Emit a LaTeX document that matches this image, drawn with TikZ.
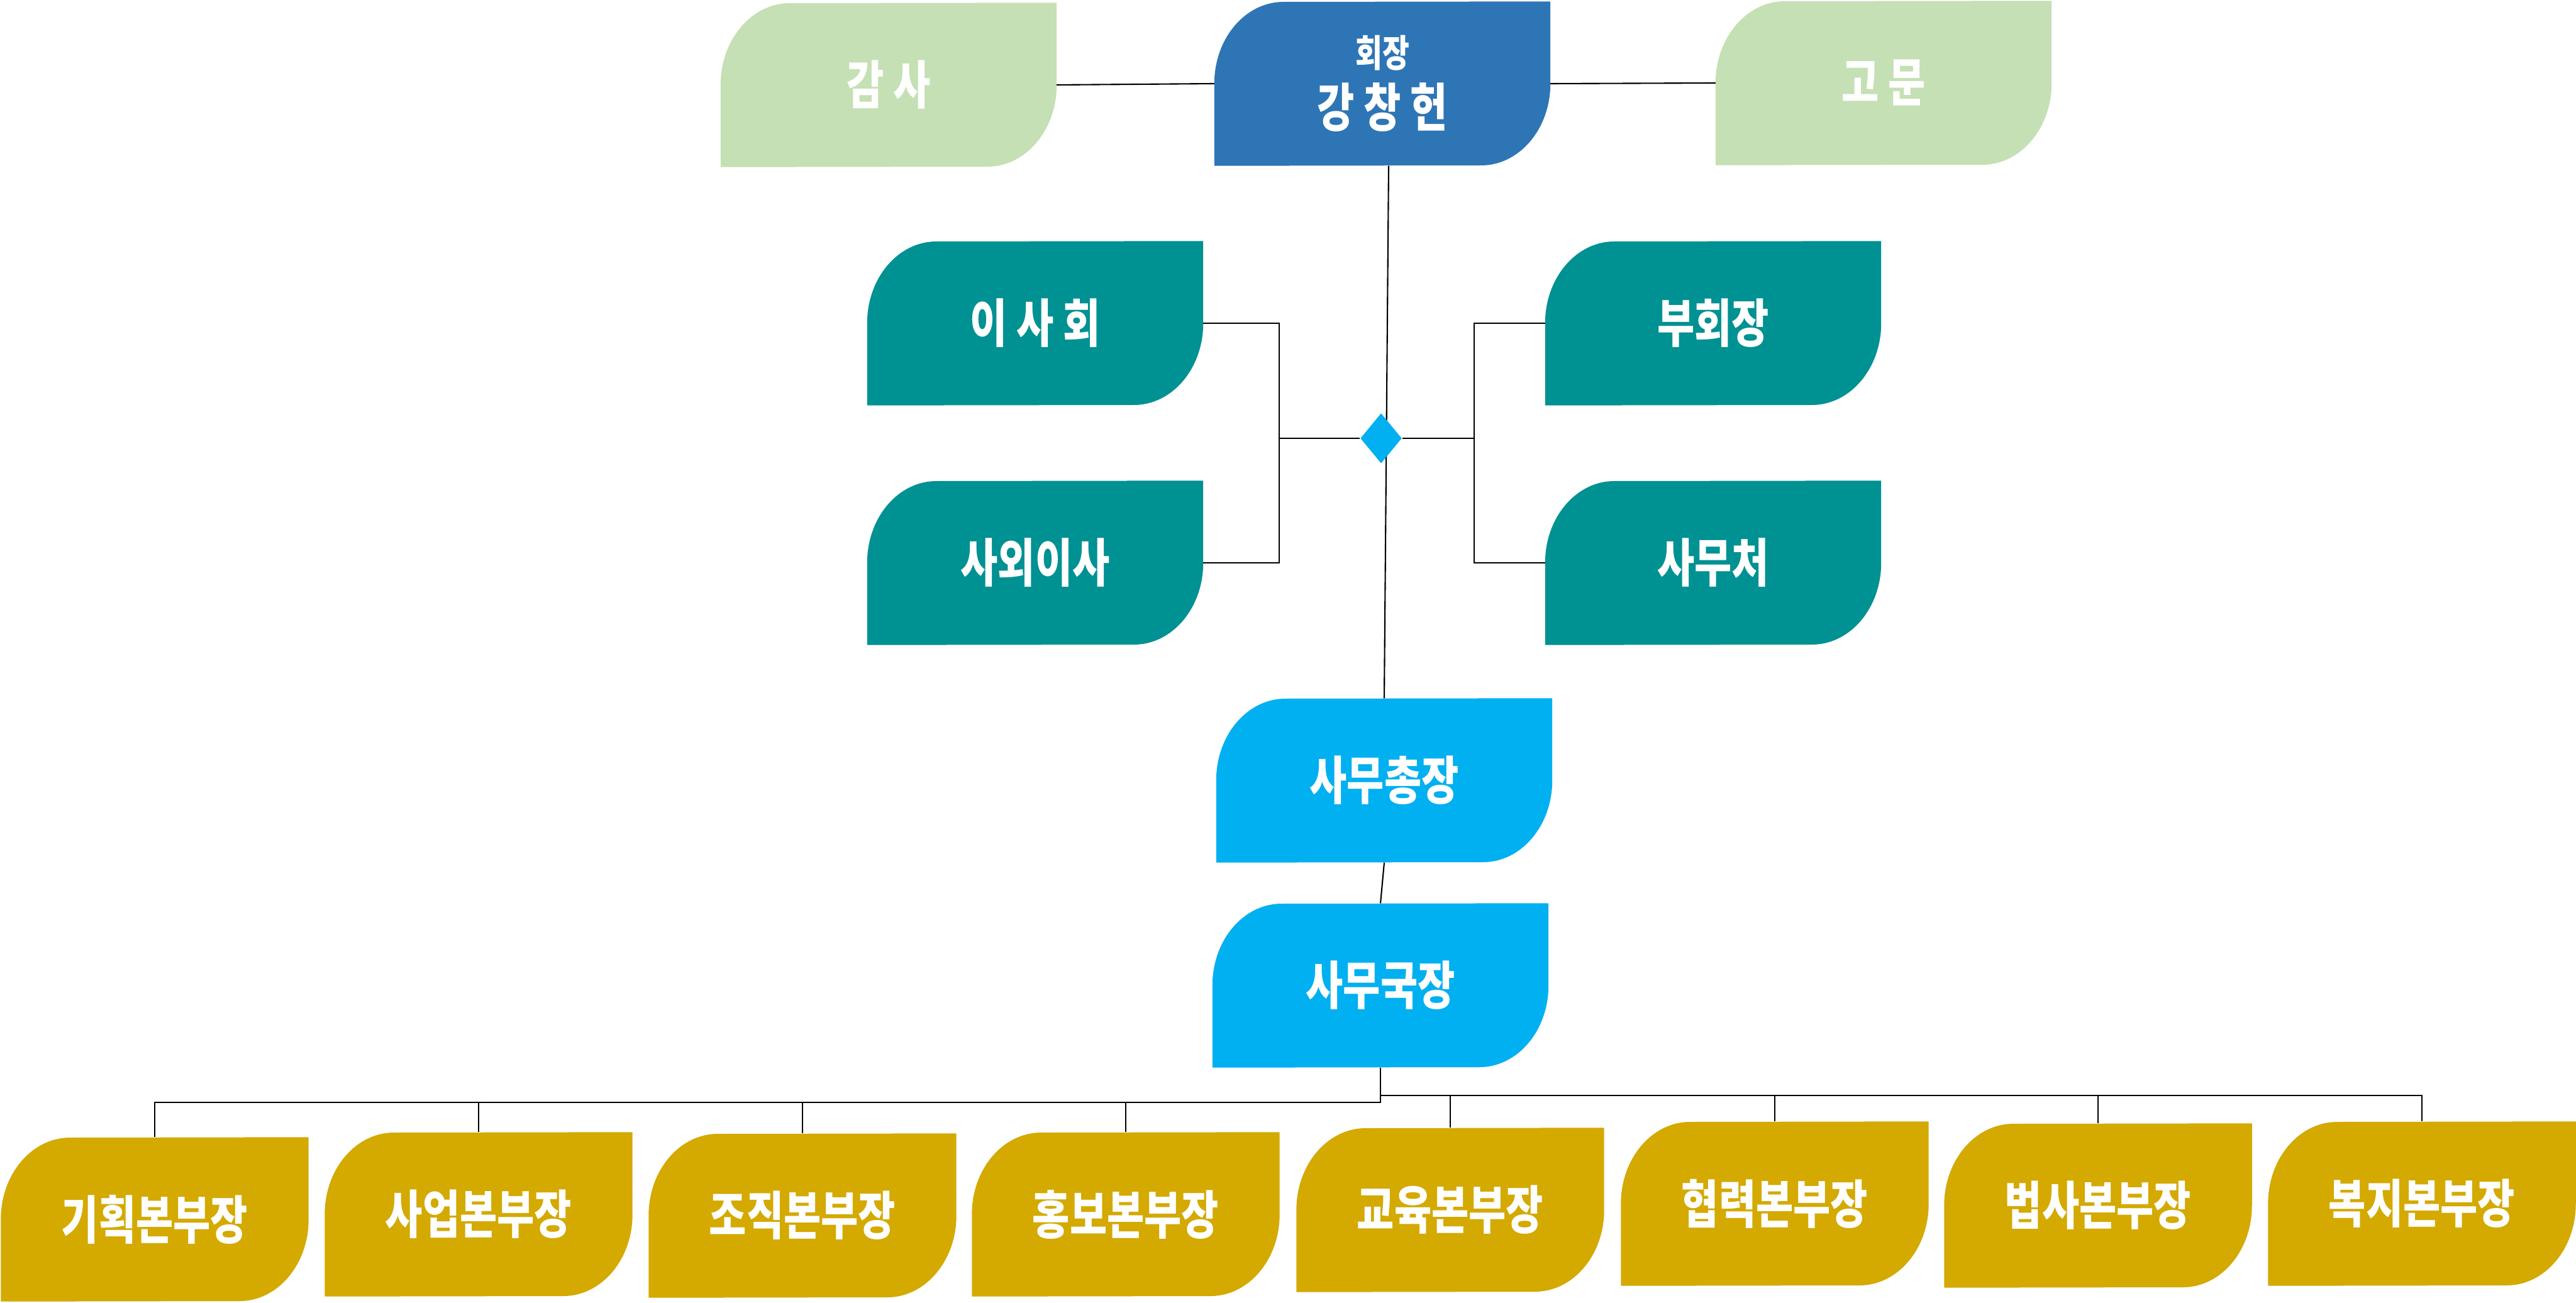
\documentclass[tikz,border=0pt]{standalone}
\usepackage{fontspec}
\newfontfamily\krfont{Noto Sans CJK KR}[FakeStretch=0.78]
\usetikzlibrary{shapes.geometric,backgrounds}

\definecolor{sage}{HTML}{C5E0B4}
\definecolor{chairblue}{HTML}{2E75B6}
\definecolor{boardteal}{HTML}{009193}
\definecolor{officecyan}{HTML}{00B0F0}
\definecolor{deptgold}{HTML}{D4A900}

\newcommand{\leafshape}[2]{%
	\fill[#2] (#1.south west)--(#1.west) arc[start angle=180,end angle=90,x radius=1.1cm,y radius=1.3cm]--(#1.north east)--(#1.east) arc[start angle=0,end angle=-90,x radius=1.1cm,y radius=1.3cm]--cycle;}

\begin{document}
\begin{tikzpicture}[
	box/.style={minimum width=5.33cm,minimum height=2.6cm,inner sep=0pt,text=white,font=\krfont\bfseries\fontsize{23.5}{27}\selectfont},
	dept/.style={box,minimum width=4.88cm},
	hub/.style={diamond,fill=officecyan,minimum width=0.66cm,minimum height=0.8cm,inner sep=0pt},
	link/.style={line width=0.6pt}]
	\useasboundingbox (0,0) rectangle (40.96,20.71);

	%top row
	\node[box] (gamsa) at (14.13,19.36) {감 사};
	\node[box,align=center] (chair) at (21.98,19.38) {{\fontsize{17}{20}\selectfont 회장}\\강 창 헌};
	\node[box] (gomun) at (29.95,19.39) {고 문};
	%board
	\node[box] (isa) at (16.46,15.57) {이 사 회};
	\node[box] (vice) at (27.24,15.57) {부회장};
	\node[box] (sawoe) at (16.46,11.76) {사외이사};
	\node[box] (office) at (27.24,11.76) {사무처};
	%secretariat
	\node[box] (chief) at (22.01,8.30) {사무총장};
	\node[box] (director) at (21.95,5.04) {사무국장};
	%departments
	\foreach \n/\x/\y/\t in {gihoek/2.46/1.32/기획본부장, saeop/7.61/1.40/사업본부장, jojik/12.76/1.38/조직본부장, hongbo/17.90/1.40/홍보본부장, gyoyuk/23.06/1.47/교육본부장, hyeomnyeok/28.22/1.57/협력본부장, beopsa/33.36/1.54/법사본부장, bokji/38.51/1.57/복지본부장}
		\node[dept] (\n) at (\x,\y) {\t};

	%shapes
	\begin{scope}[on background layer]
		\foreach \n/\c in {gamsa/sage, chair/chairblue, gomun/sage, isa/boardteal, vice/boardteal, sawoe/boardteal, office/boardteal, chief/officecyan, director/officecyan, gihoek/deptgold, saeop/deptgold, jojik/deptgold, hongbo/deptgold, gyoyuk/deptgold, hyeomnyeok/deptgold, beopsa/deptgold, bokji/deptgold}
			{\leafshape{\n}{\c}}
	\end{scope}

	%links
	\draw[link] (gamsa.east)--(chair.west);
	\draw[link] (chair.east)--(gomun.west);
	\draw[link] ([xshift=1mm]chair.south)--(chief.north);
	\draw[link] (chief.south)--(director.north);
	\node[hub] (hub) at (21.96,13.74) {};
	%
	\draw[link] (hub.west)--++(-1.28,0) coordinate (lj);
	\draw[link] (isa.east)-|(lj)|-(sawoe.east);
	\draw[link] (hub.east)--++(1.14,0) coordinate (rj);
	\draw[link] (vice.west)-|(rj)|-(office.west);
	%
	\foreach \n in {gihoek,saeop,jojik,hongbo}
		\draw[link] (director.south)--++(0,-0.55)-|(\n.north);
	\foreach \n in {gyoyuk,hyeomnyeok,beopsa,bokji}
		\draw[link] (director.south)--++(0,-0.44)-|(\n.north);
\end{tikzpicture}
\end{document}
